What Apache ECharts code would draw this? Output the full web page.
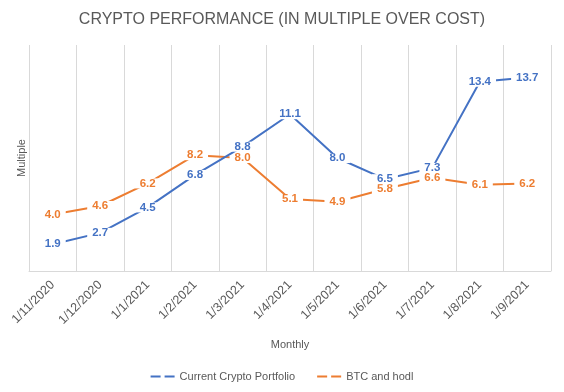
<!DOCTYPE html>
<html><head><meta charset="utf-8">
<script src="https://cdn.jsdelivr.net/npm/echarts@6/dist/echarts.min.js"></script>
<style>html,body{margin:0;padding:0;background:#fff}#c{width:564px;height:392px}</style>
</head><body><div id="c"></div>
<script>
var categories = ['1/11/2020','1/12/2020','1/1/2021','1/2/2021','1/3/2021','1/4/2021','1/5/2021','1/6/2021','1/7/2021','1/8/2021','1/9/2021'];
var portfolio = [1.9, 2.7, 4.5, 6.8, 8.8, 11.1, 8.0, 6.5, 7.3, 13.4, 13.7];
var btcHodl = [4.0, 4.6, 6.2, 8.2, 8.0, 5.1, 4.9, 5.8, 6.6, 6.1, 6.2];
var seriesNames = ['Current Crypto Portfolio', 'BTC and hodl'];
var colors = ['#4472C4', '#ED7D31'];
var FONT = 'Liberation Sans';
var legendIcon = 'path://M0,0 L10,0 L10,2 L0,2 Z M14,0 L24,0 L24,2 L14,2 Z';

function mkSeries(name, data, color, z) {
  return {
    name: name, type: 'line', data: data, symbol: 'circle', symbolSize: 1, showSymbol: true, z: z,
    lineStyle: { color: color, width: 2 }, itemStyle: { color: color },
    label: {
      show: true, position: 'inside', color: color, fontWeight: 'bold', fontSize: 11.5, fontFamily: FONT,
      backgroundColor: '#fff', padding: [0, 5], lineHeight: 10,
      formatter: function (p) { return p.value.toFixed(1); }
    }
  };
}

var chart = echarts.init(document.getElementById('c'));
chart.setOption({
  animation: false,
  title: { text: 'CRYPTO PERFORMANCE (IN MULTIPLE OVER COST)', left: 'center', top: 7,
    textStyle: { fontFamily: FONT, fontSize: 16, fontWeight: 'normal', color: '#595959' } },
  grid: { left: 29, right: 13, top: 45, bottom: 121 },
  legend: { bottom: 5, left: 'center', itemWidth: 24, itemHeight: 2, itemGap: 22,
    icon: legendIcon,
    textStyle: { fontFamily: FONT, fontSize: 11, color: '#595959' },
    data: seriesNames },
  xAxis: {
    type: 'category', data: categories, boundaryGap: true,
    name: 'Monthly', nameLocation: 'middle', nameGap: 68,
    nameTextStyle: { fontFamily: FONT, fontSize: 11, color: '#595959' },
    axisLine: { lineStyle: { color: '#d9d9d9', width: 1 } },
    axisTick: { show: false },
    axisLabel: { rotate: 45, interval: 0, fontFamily: FONT, fontSize: 12.5, color: '#595959', margin: 12 },
    splitLine: { show: true, interval: 0, lineStyle: { color: '#d9d9d9', width: 1 } }
  },
  yAxis: {
    type: 'value', min: 0, max: 16, interval: 2,
    name: 'Multiple', nameLocation: 'middle', nameGap: 2, nameRotate: 90,
    nameTextStyle: { fontFamily: FONT, fontSize: 11, color: '#595959' },
    axisLine: { show: false }, axisTick: { show: false }, axisLabel: { show: false },
    splitLine: { show: false }
  },
  series: [
    mkSeries(seriesNames[0], portfolio, colors[0], 3),
    mkSeries(seriesNames[1], btcHodl, colors[1], 2)
  ]
});
</script></body></html>
